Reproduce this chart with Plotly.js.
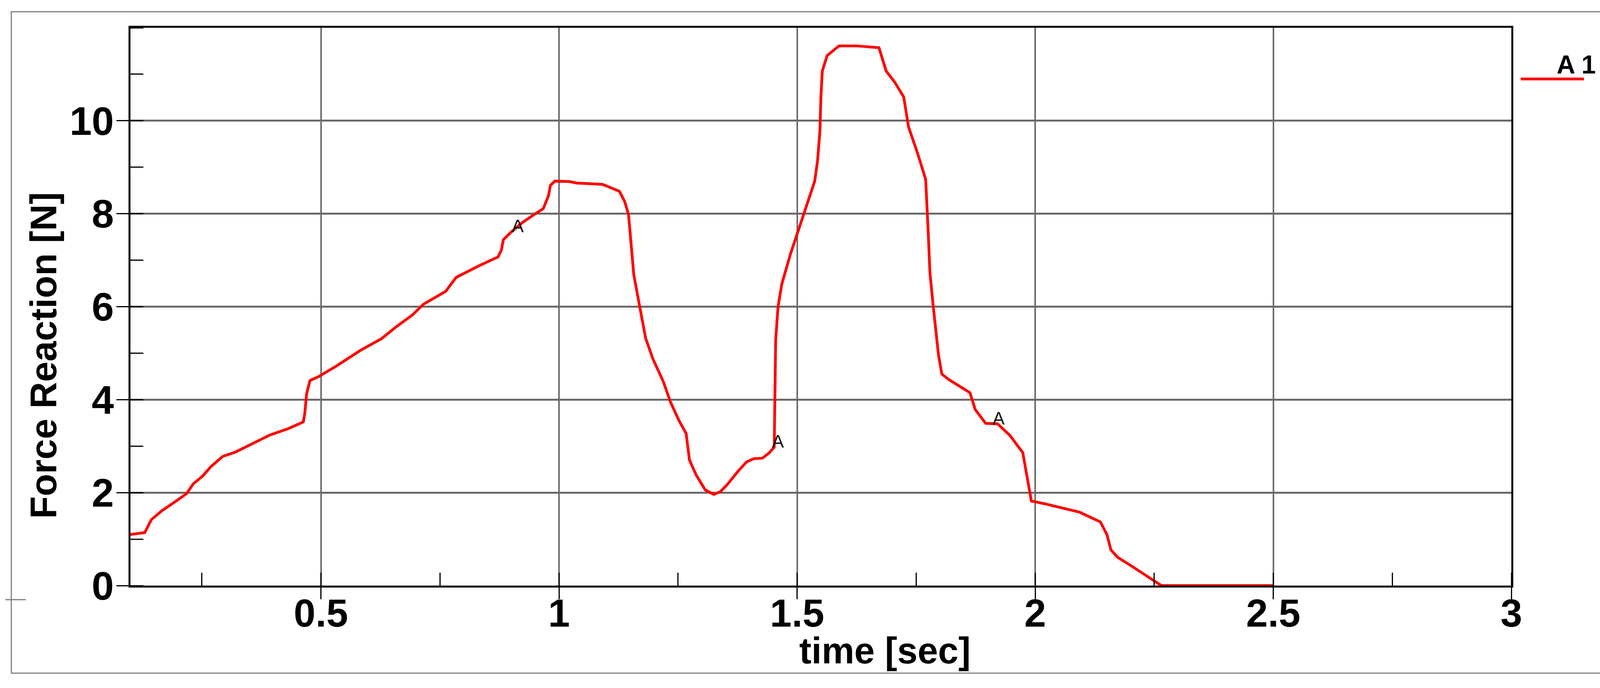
<!DOCTYPE html>
<html>
<head>
<meta charset="utf-8">
<script src="https://cdn.plot.ly/plotly-3.0.1.min.js"></script>
<style>
  html, body { margin: 0; padding: 0; background: #fff; }
  #chart { width: 4131px; height: 1760px; }
</style>
</head>
<body>
<div id="chart"></div>
<script>
// force reaction curve
var time = [0.100, 0.130, 0.144, 0.166, 0.196, 0.218, 0.232, 0.251, 0.269, 0.294,
  0.320, 0.349, 0.393, 0.430, 0.463, 0.466, 0.470, 0.477, 0.496, 0.532,
  0.583, 0.627, 0.656, 0.693, 0.715, 0.762, 0.784, 0.832, 0.872, 0.879,
  0.883, 0.898, 0.923, 0.949, 0.967, 0.978, 0.982, 0.991, 1.022, 1.037,
  1.092, 1.127, 1.138, 1.146, 1.153, 1.157, 1.168, 1.182, 1.197, 1.219,
  1.234, 1.252, 1.267, 1.274, 1.288, 1.307, 1.325, 1.339, 1.354, 1.376,
  1.394, 1.409, 1.427, 1.442, 1.452, 1.453, 1.455, 1.460, 1.468, 1.486,
  1.497, 1.515, 1.537, 1.543, 1.548, 1.550, 1.553, 1.563, 1.588, 1.625,
  1.672, 1.687, 1.705, 1.724, 1.734, 1.753, 1.770, 1.775, 1.779, 1.786,
  1.797, 1.804, 1.819, 1.844, 1.863, 1.874, 1.896, 1.921, 1.947, 1.974,
  1.983, 1.992, 2.020, 2.093, 2.137, 2.151, 2.159, 2.173, 2.201, 2.265,
  2.500];
var force = [1.10, 1.14, 1.42, 1.61, 1.82, 1.98, 2.19, 2.35, 2.56, 2.78,
  2.87, 3.02, 3.24, 3.37, 3.52, 3.70, 4.13, 4.41, 4.50, 4.72,
  5.06, 5.31, 5.55, 5.83, 6.05, 6.33, 6.63, 6.88, 7.07, 7.22,
  7.44, 7.59, 7.81, 7.99, 8.11, 8.39, 8.61, 8.70, 8.69, 8.66,
  8.63, 8.48, 8.26, 7.98, 7.17, 6.69, 6.08, 5.32, 4.88, 4.39,
  3.95, 3.55, 3.27, 2.70, 2.38, 2.06, 1.96, 2.02, 2.18, 2.46,
  2.66, 2.73, 2.74, 2.86, 2.98, 4.15, 5.28, 6.00, 6.49, 7.13,
  7.46, 8.02, 8.70, 9.14, 9.79, 10.51, 11.07, 11.40, 11.61, 11.61,
  11.57, 11.07, 10.83, 10.51, 9.87, 9.30, 8.74, 7.69, 6.73, 6.00,
  4.96, 4.55, 4.43, 4.27, 4.15, 3.79, 3.49, 3.48, 3.23, 2.86,
  2.30, 1.82, 1.76, 1.58, 1.37, 1.09, 0.77, 0.61, 0.43, 0.00,
  0.00];

// "A" markers along the curve
var markTime = [0.913, 1.460, 1.923];
var markForce = [7.74, 3.10, 3.60];
var markText = ['A', 'A', 'A'];

var yTicks = [0, 2, 4, 6, 8, 10];
var seriesName = 'A 1';
var xTitle = 'time [sec]';
var yTitle = 'Force Reaction [N]';

var W = 4131, H = 1760;
var M = {l: 334, r: 262, t: 71, b: 262};
var PW = W - M.l - M.r, PH = H - M.t - M.b;
// pixel position in the picture -> paper coordinate
function px(x) { return (x - M.l) / PW; }
function py(y) { return (H - M.b - y) / PH; }

var font = 'Liberation Sans, Arial, sans-serif';

var trace = {
  type: 'scatter',
  mode: 'lines',
  x: time,
  y: force,
  name: seriesName,
  line: {color: '#ff0000', width: 7},
  showlegend: false
};

var annotations = markTime.map(function (t, i) {
  return {
    x: t, y: markForce[i], xref: 'x', yref: 'y',
    text: markText[i], showarrow: false,
    xanchor: 'center', yanchor: 'middle',
    font: {family: font, size: 46, color: '#111'}
  };
});

// axis titles sit off-centre in the original
annotations.push({
  x: px(2265), y: py(1664), xref: 'paper', yref: 'paper',
  text: xTitle, showarrow: false,
  xanchor: 'center', yanchor: 'middle',
  font: {family: font, size: 94, weight: 'bold', color: '#000'}
});
annotations.push({
  x: px(111), y: py(909), xref: 'paper', yref: 'paper',
  text: yTitle, showarrow: false, textangle: -90,
  xanchor: 'center', yanchor: 'middle',
  font: {family: font, size: 94, weight: 'bold', color: '#000'}
});

// legend drawn like the original: label above a red stroke
annotations.push({
  x: px(4035), y: py(165), xref: 'paper', yref: 'paper',
  text: seriesName, showarrow: false,
  xanchor: 'center', yanchor: 'middle',
  font: {family: font, size: 66, weight: 'bold', color: '#000'}
});

var shapes = [
  {type: 'rect', xref: 'paper', yref: 'paper',
   x0: px(29), x1: px(4103), y0: py(1722), y1: py(30),
   line: {color: '#808080', width: 3}},
  {type: 'line', xref: 'paper', yref: 'paper',
   x0: px(3893), x1: px(4055), y0: py(202), y1: py(202),
   line: {color: '#ff0000', width: 7}},
  {type: 'line', xref: 'paper', yref: 'paper',
   x0: px(13), x1: px(66), y0: py(1534), y1: py(1534),
   line: {color: '#808080', width: 3}}
];

var layout = {
  width: W,
  height: H,
  margin: M,
  paper_bgcolor: '#fff',
  plot_bgcolor: '#fff',
  showlegend: false,
  xaxis: {
    range: [0.1, 3.0],
    tick0: 0, dtick: 0.5,
    ticks: 'outside', ticklen: 30, tickwidth: 3, tickcolor: '#000',
    ticklabelstandoff: -50,
    showgrid: true, gridcolor: '#6a6a6a', gridwidth: 4,
    minor: {tickmode: 'linear', tick0: 0, dtick: 0.25, ticks: 'inside', ticklen: 33,
      tickwidth: 3, tickcolor: '#000', showgrid: false},
    showline: true, linecolor: '#000', linewidth: 5, mirror: true,
    zeroline: false,
    tickfont: {family: font, size: 100, weight: 'bold', color: '#000'}
  },
  yaxis: {
    range: [0, 12],
    tickmode: 'array', tickvals: yTicks,
    ticks: 'outside', ticklen: 31, tickwidth: 3, tickcolor: '#000',
    ticklabelstandoff: -14,
    showgrid: true, gridcolor: '#6a6a6a', gridwidth: 5,
    minor: {tickmode: 'linear', tick0: 0, dtick: 1, ticks: 'inside', ticklen: 33,
      tickwidth: 3, tickcolor: '#000', showgrid: false},
    showline: true, linecolor: '#000', linewidth: 5, mirror: true,
    zeroline: false,
    tickfont: {family: font, size: 102, weight: 'bold', color: '#000'}
  },
  annotations: annotations,
  shapes: shapes
};

Plotly.newPlot('chart', [trace], layout, {staticPlot: true, displayModeBar: false});
</script>
</body>
</html>
